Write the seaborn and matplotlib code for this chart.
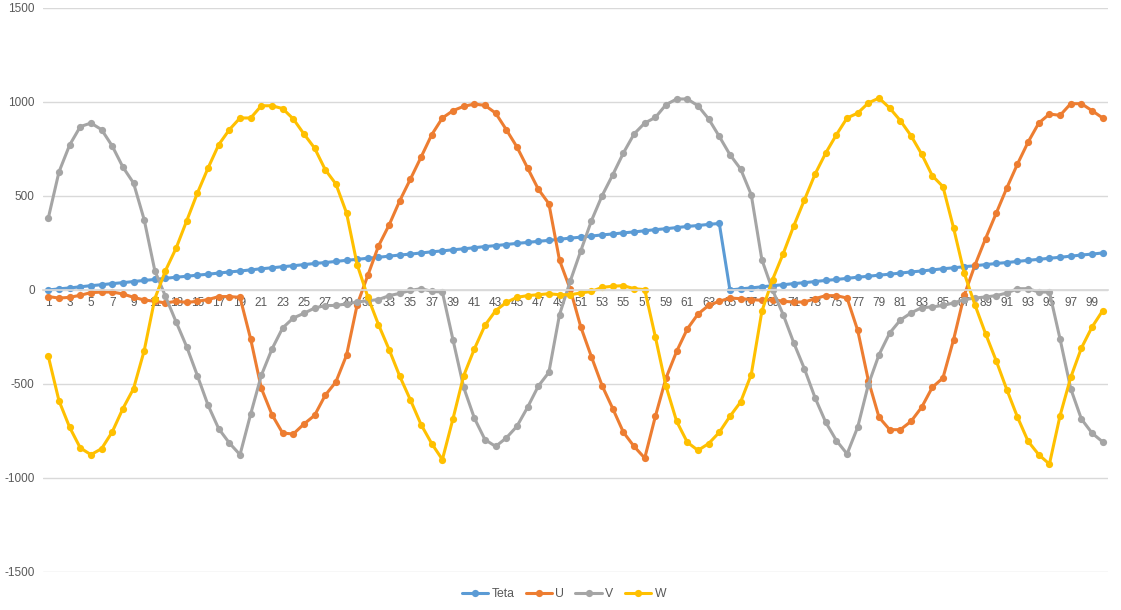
import matplotlib
matplotlib.use("Agg")
import matplotlib.pyplot as plt
import seaborn as sns
import pandas as pd
import numpy as np

idx = list(range(1, 101))

teta = [0, 6, 11, 17, 23, 28, 34, 39, 45, 51,
        56, 62, 68, 73, 79, 84, 90, 96, 101, 107,
        113, 118, 124, 129, 135, 141, 146, 152, 158, 163,
        169, 174, 180, 186, 191, 197, 203, 208, 214, 219,
        225, 231, 236, 242, 248, 253, 259, 264, 270, 276,
        281, 287, 293, 298, 304, 309, 315, 321, 326, 332,
        338, 343, 349, 354,
        0, 6, 11, 17, 23, 28, 34, 39, 45, 51,
        56, 62, 68, 73, 79, 84, 90, 96, 101, 107,
        113, 118, 124, 129, 135, 141, 146, 152, 158, 163,
        169, 174, 180, 186, 191, 197]

u = [-35, -43, -39, -28, -14, -11, -11, -21, -39, -53,
     -60, -69, -60, -66, -60, -51, -35, -35, -39, -261,
     -523, -663, -761, -766, -713, -667, -560, -489, -347, -78,
     78, 234, 346, 475, 590, 707, 826, 915, 954, 977,
     989, 982, 941, 853, 761, 649, 537, 459, 158, 5,
     -197, -356, -509, -631, -757, -832, -894, -672, -468, -326,
     -207, -128, -82, -60, -43, -46, -51, -55, -51, -60,
     -64, -64, -46, -30, -30, -43, -215, -482, -677, -743,
     -743, -699, -624, -518, -468, -264, -28, 131, 273, 408,
     543, 670, 787, 888, 936, 929, 991, 991, 954, 915]

v = [383, 628, 771, 869, 888, 853, 766, 654, 569, 374,
     103, -34, -170, -303, -456, -613, -738, -814, -876, -660,
     -454, -314, -202, -149, -124, -96, -83, -82, -74, -64,
     -57, -51, -30, -18, -2, 7, -7, -11, -266, -518,
     -681, -796, -832, -787, -725, -624, -512, -438, -131, 46,
     209, 369, 502, 613, 729, 830, 888, 918, 986, 1016,
     1016, 980, 910, 817, 720, 644, 507, 161, 0, -131,
     -282, -420, -574, -704, -801, -872, -729, -503, -344, -229,
     -160, -122, -94, -90, -82, -69, -51, -43, -37, -30,
     -16, 7, 7, -11, -11, -261, -525, -686, -761, -808]

w = [-353, -589, -730, -840, -876, -844, -755, -631, -525, -323,
     -46, 103, 223, 369, 516, 649, 773, 853, 915, 915,
     980, 980, 965, 910, 830, 755, 640, 564, 410, 135,
     -37, -184, -317, -459, -585, -716, -817, -902, -684, -456,
     -314, -188, -110, -66, -39, -30, -25, -20, -25, -25,
     -16, -7, 14, 20, 23, 7, 2, -250, -512, -699,
     -810, -853, -817, -757, -672, -596, -450, -113, 55, 193,
     342, 480, 617, 729, 826, 915, 941, 995, 1021, 968,
     901, 821, 723, 608, 550, 330, 90, -78, -232, -376,
     -530, -676, -805, -876, -926, -668, -465, -309, -197, -110]

series_names = ["Teta", "U", "V", "W"]
colors = ["#5B9BD5", "#ED7D31", "#A5A5A5", "#FFC000"]

df = pd.concat([
    pd.DataFrame({"idx": idx, "value": vals, "series": name})
    for name, vals in zip(series_names, [teta, u, v, w])
], ignore_index=True)

sns.set_theme(style="white")
plt.rcParams["font.family"] = ["Liberation Sans", "DejaVu Sans"]

fig = plt.figure(figsize=(11.21, 6.10), dpi=100)
ax = fig.add_axes([43 / 1121, 38 / 610, 1065 / 1121, 564 / 610])

sns.lineplot(data=df, x="idx", y="value", hue="series", hue_order=series_names,
             palette=colors, marker="o", markersize=5.2, markeredgewidth=0,
             linewidth=2.2, ax=ax, legend=True)

ax.set_xlim(0.5, 100.5)
ax.set_ylim(-1500, 1500)
ax.set_yticks([-1500, -1000, -500, 0, 500, 1000, 1500])
ax.set_yticklabels([str(t) for t in [-1500, -1000, -500, 0, 500, 1000, 1500]])
ax.yaxis.grid(True, color="#D9D9D9", linewidth=1)
ax.set_axisbelow(True)

xt = list(range(1, 101, 2))
ax.set_xticks(xt)
ax.set_xticklabels([str(t) for t in xt])
ax.spines["bottom"].set_position(("data", 0))
ax.spines["bottom"].set_color("#D9D9D9")
for s in ["top", "right", "left"]:
    ax.spines[s].set_visible(False)
ax.tick_params(axis="both", length=0, labelsize=8.5, colors="#595959")
ax.tick_params(axis="x", pad=5)
ax.tick_params(axis="y", pad=6)
ax.set_xlabel("")
ax.set_ylabel("")

handles, labels = ax.get_legend_handles_labels()
ax.legend_.remove()
fig.legend(handles, labels, loc="lower center", bbox_to_anchor=(0.503, -0.002),
           ncol=4, frameon=False, fontsize=8.8, handlelength=2.2,
           columnspacing=0.9, handletextpad=0.25, labelcolor="#595959")

fig.savefig("out.png", dpi=100)
